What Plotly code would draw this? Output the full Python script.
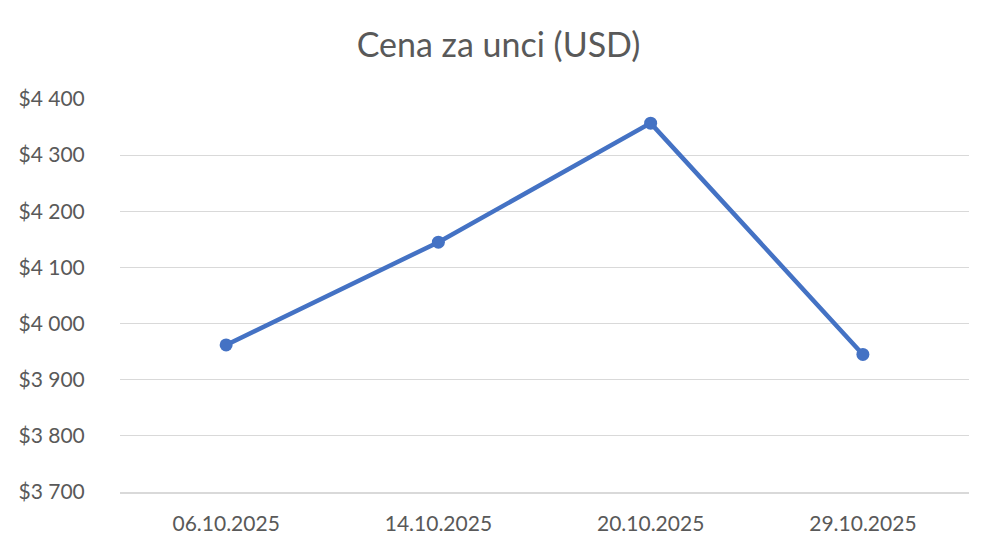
import plotly.graph_objects as go

dates = ["06.10.2025", "14.10.2025", "20.10.2025", "29.10.2025"]
prices = [3962, 4145, 4357, 3945]
y_ticks = [3700, 3800, 3900, 4000, 4100, 4200, 4300, 4400]
y_tick_labels = ["$3 700", "$3 800", "$3 900", "$4 000", "$4 100", "$4 200", "$4 300", "$4 400"]

fig = go.Figure()
fig.add_trace(go.Scatter(
    x=dates, y=prices, mode="lines+markers",
    line=dict(color="#4472C4", width=4.5),
    marker=dict(color="#4472C4", size=13),
))

fig.update_layout(
    width=999, height=555,
    margin=dict(l=112, r=38, t=91, b=71),
    paper_bgcolor="white", plot_bgcolor="white",
    showlegend=False,
    font=dict(family="Lato, Open Sans, sans-serif", color="#595959"),
    title=dict(text="Cena za unci (USD)", x=0.491, xanchor="center", y=0.933, yanchor="middle",
               font=dict(size=34, color="#595959", family="Lato, Open Sans, sans-serif")),
    xaxis=dict(
        type="category", range=[-0.5, 3.5],
        showgrid=False, showline=True, linecolor="#d9d9d9", linewidth=1.5,
        ticks="outside", ticklen=12, tickcolor="rgba(0,0,0,0)",
        tickfont=dict(size=21, color="#595959"),
        zeroline=False,
    ),
    yaxis=dict(
        range=[3700, 4400], tickvals=y_ticks, ticktext=y_tick_labels,
        showgrid=True, gridcolor="#d9d9d9", gridwidth=1,
        showline=False, zeroline=False,
        ticks="outside", ticklen=30, tickcolor="rgba(0,0,0,0)",
        tickfont=dict(size=21, color="#595959"),
    ),
)

fig.write_html("out.html")
